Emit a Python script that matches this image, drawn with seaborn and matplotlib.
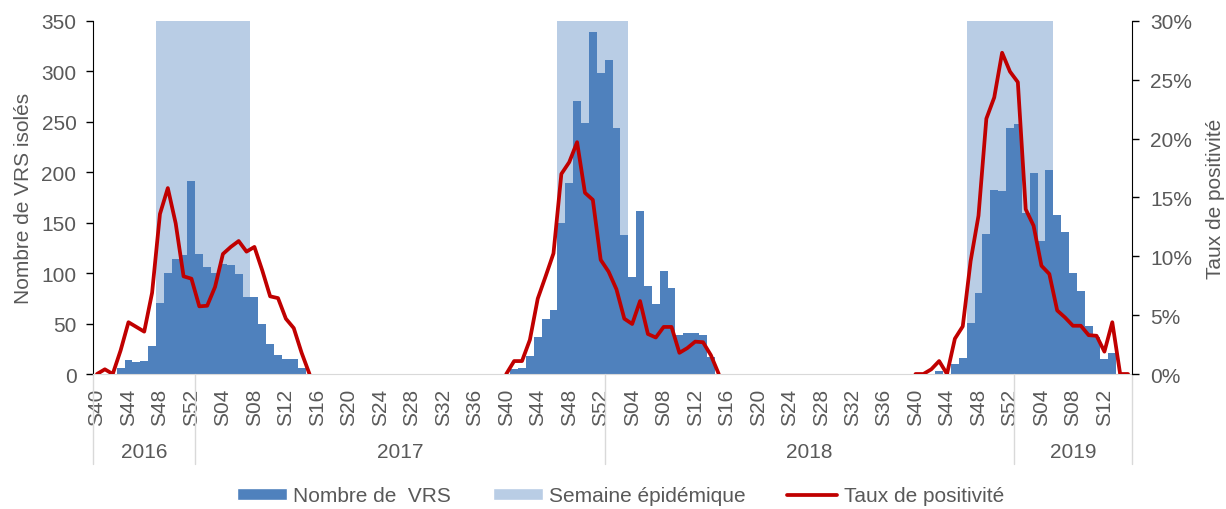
import numpy as np
import pandas as pd
import matplotlib
matplotlib.use("Agg")
import matplotlib.pyplot as plt
from matplotlib.ticker import FuncFormatter
from matplotlib.patches import Patch
from matplotlib.lines import Line2D
import seaborn as sns

# calendar covered by the chart
annees = [2016, 2017, 2018, 2019]
premiere_sem = [40, 1, 1, 1]
derniere_sem = [52, 52, 52, 15]

# each season runs from S40 to S15 of the next year (28 weeks)
saisons = ["2016-2017", "2017-2018", "2018-2019"]
debut_saison = [(2016, 40), (2017, 40), (2018, 40)]

vrs_2016_17 = [0, 0, 0, 6, 14, 12, 13, 28, 70, 100, 114, 118, 191, 119,
               106, 100, 109, 108, 99, 76, 76, 50, 30, 19, 15, 15, 6, 0]
vrs_2017_18 = [0, 5, 6, 18, 37, 55, 63, 150, 189, 271, 249, 339, 298, 311,
               244, 138, 96, 162, 87, 69, 102, 85, 39, 41, 41, 39, 17, 0]
vrs_2018_19 = [0, 0, 0, 3, 0, 10, 16, 51, 80, 139, 182, 181, 244, 248,
               160, 199, 132, 202, 158, 141, 100, 82, 48, 37, 15, 21, 0, 0]

taux_2016_17 = [0.0, 0.4, 0.0, 2.0, 4.4, 4.0, 3.6, 6.9, 13.6, 15.8, 12.8, 8.3, 8.1, 5.75,
                5.8, 7.4, 10.2, 10.8, 11.3, 10.4, 10.8, 8.8, 6.6, 6.45, 4.7, 3.9, 1.8, 0.0]
taux_2017_18 = [0.0, 1.1, 1.1, 2.9, 6.4, 8.3, 10.25, 17.0, 18.0, 19.7, 15.4, 14.8, 9.7, 8.7,
                7.2, 4.7, 4.25, 6.2, 3.4, 3.1, 4.0, 4.0, 1.8, 2.2, 2.75, 2.7, 1.6, 0.0]
taux_2018_19 = [0.0, 0.0, 0.4, 1.1, 0.0, 3.0, 4.05, 9.6, 13.45, 21.7, 23.5, 27.3, 25.7, 24.8,
                14.0, 12.6, 9.2, 8.5, 5.4, 4.8, 4.1, 4.1, 3.3, 3.25, 1.9, 4.4, 0.0, 0.0]

# 1 = semaine épidémique
epi_2016_17 = [0] * 8 + [1] * 12 + [0] * 8
epi_2017_18 = [0] * 7 + [1] * 9 + [0] * 12
epi_2018_19 = [0] * 7 + [1] * 11 + [0] * 10

vrs_saisons = [vrs_2016_17, vrs_2017_18, vrs_2018_19]
taux_saisons = [taux_2016_17, taux_2017_18, taux_2018_19]
epi_saisons = [epi_2016_17, epi_2017_18, epi_2018_19]

# build weekly table
rows = []
for an, s0, s1 in zip(annees, premiere_sem, derniere_sem):
    for s in range(s0, s1 + 1):
        rows.append({"annee": an, "semaine": s, "label": f"S{s:02d}"})
df = pd.DataFrame(rows)
df["idx"] = np.arange(len(df))
df["vrs"] = 0.0
df["taux"] = np.nan
df["epi"] = 0.0
df["saison"] = None

for nom, (an, s), v, t, e in zip(saisons, debut_saison, vrs_saisons, taux_saisons, epi_saisons):
    start = df.index[(df["annee"] == an) & (df["semaine"] == s)][0]
    sl = slice(start, start + len(v) - 1)
    df.loc[sl, "vrs"] = v
    df.loc[sl, "taux"] = t
    df.loc[sl, "epi"] = np.array(e) * 350
    df.loc[sl, "saison"] = nom

sns.set_style("white")
plt.rcParams["font.family"] = ["Liberation Sans", "DejaVu Sans"]
gris = "#595959"
bleu = "#4F81BD"
bleu_clair = "#B9CDE5"
rouge = "#C00000"
fs = 15

fig = plt.figure(figsize=(12.26, 5.10), dpi=100)
ax = fig.add_axes([0.0759, 0.2647, 0.8474, 0.6922])

sns.barplot(data=df, x="idx", y="epi", color=bleu_clair, width=1, saturation=1,
            linewidth=0, errorbar=None, ax=ax)
sns.barplot(data=df, x="idx", y="vrs", color=bleu, width=1, saturation=1,
            linewidth=0, errorbar=None, ax=ax)

n = len(df)
ax.set_xlim(-0.5, n - 0.5)
ax.set_ylim(0, 350)
ax.set_yticks(range(0, 351, 50))
ax.set_xticks(range(0, n, 4))
ax.set_xticklabels(df["label"][::4], rotation=90)
ax.set_xticks(range(n), minor=True)
ax.tick_params(axis="x", which="both", length=4, color="#D9D9D9", width=1,
               labelsize=fs, labelcolor=gris, pad=6)
ax.tick_params(axis="y", length=5, color="black", width=1, labelsize=fs,
               labelcolor=gris, left=True, pad=7)
ax.set_xlabel("")
ax.set_ylabel("Nombre de VRS isolés", fontsize=fs, color=gris, labelpad=6)
for side in ["top", "right"]:
    ax.spines[side].set_visible(False)
ax.spines["left"].set_color("black")
ax.spines["bottom"].set_color("#D9D9D9")

ax2 = ax.twinx()
sns.lineplot(data=df.dropna(subset=["taux"]), x="idx", y="taux", units="saison",
             estimator=None, color=rouge, linewidth=2.7, legend=False, ax=ax2)
ax2.set_xlim(-0.5, n - 0.5)
ax2.set_ylim(0, 30)
ax2.set_yticks(range(0, 31, 5))
ax2.yaxis.set_major_formatter(FuncFormatter(lambda v, p: f"{v:.0f}%"))
ax2.tick_params(axis="y", length=5, color="black", width=1, labelsize=fs,
                labelcolor=gris, right=True, pad=8)
ax2.set_ylabel("Taux de positivité", fontsize=fs, color=gris, rotation=90, labelpad=10)
for side in ["top", "left", "bottom"]:
    ax2.spines[side].set_visible(False)
ax2.spines["right"].set_color("black")

# year groups under the week labels
trans = ax.get_xaxis_transform()
bornes = [-0.5]
for an in annees:
    sub = df[df["annee"] == an]
    bornes.append(sub["idx"].max() + 0.5)
    ax.text(sub["idx"].mean(), -0.22, str(an), transform=trans, ha="center",
            va="center", fontsize=fs, color=gris)
for b in bornes:
    ax.plot([b, b], [0, -0.255], transform=trans, color="#D9D9D9", lw=1,
            clip_on=False)

handles = [Patch(facecolor=bleu, label="Nombre de  VRS"),
           Patch(facecolor=bleu_clair, label="Semaine épidémique"),
           Line2D([], [], color=rouge, lw=2.7, label="Taux de positivité")]
fig.legend(handles=handles, loc="center", bbox_to_anchor=(0.506, 0.026), ncol=3,
           frameon=False, fontsize=fs, labelcolor=gris, handlelength=2.4,
           handleheight=0.5, handletextpad=0.3, columnspacing=2.0)

fig.savefig("out.png", dpi=100)
